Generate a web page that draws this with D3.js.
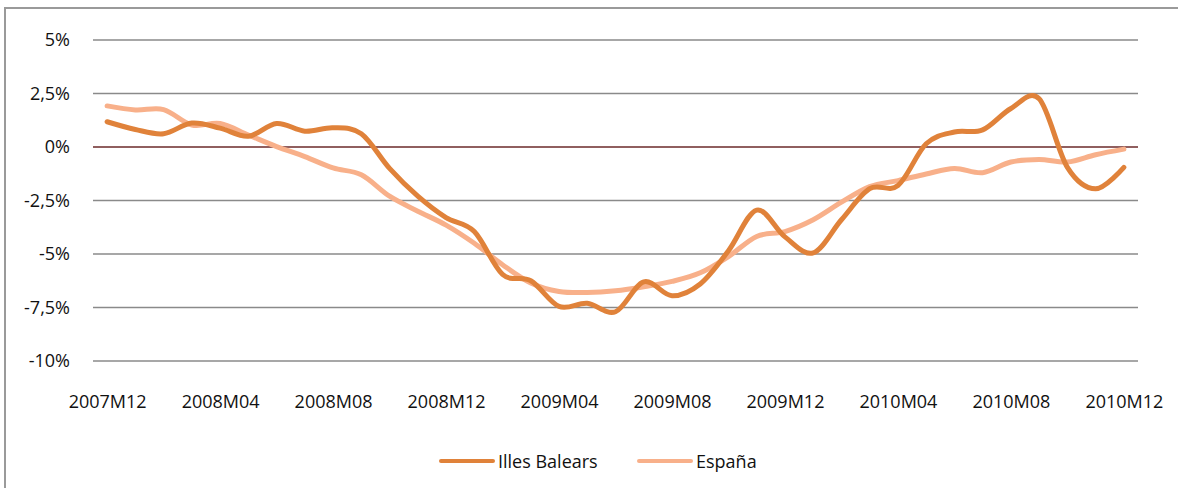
<!DOCTYPE html>
<html>
<head>
<meta charset="utf-8">
<script src="https://cdn.jsdelivr.net/npm/d3@7"></script>
<style>
  body { margin: 0; background: #fff; }
  svg text { font-family: "Open Sans", sans-serif; fill: #111; }
</style>
</head>
<body>
<div id="chart"></div>
<script>
// monthly periods 2007M12 .. 2010M12
const months = [
  '2007M12','2008M01','2008M02','2008M03','2008M04','2008M05','2008M06','2008M07','2008M08','2008M09','2008M10','2008M11',
  '2008M12','2009M01','2009M02','2009M03','2009M04','2009M05','2009M06','2009M07','2009M08','2009M09','2009M10','2009M11',
  '2009M12','2010M01','2010M02','2010M03','2010M04','2010M05','2010M06','2010M07','2010M08','2010M09','2010M10','2010M11',
  '2010M12'
];

const balears = [
  1.18, 0.82, 0.62, 1.12, 0.88, 0.50, 1.10, 0.74, 0.90, 0.62, -1.00, -2.30,
  -3.30, -3.95, -5.95, -6.25, -7.45, -7.30, -7.70, -6.30, -6.95, -6.40, -4.85, -2.95,
  -4.20, -4.95, -3.40, -1.95, -1.80, 0.15, 0.70, 0.80, 1.80, 2.25, -0.95, -1.95,
  -0.95
];

const espana = [
  1.92, 1.73, 1.75, 1.03, 1.10, 0.56, 0.02, -0.45, -0.98, -1.30, -2.30, -3.00,
  -3.65, -4.50, -5.50, -6.35, -6.75, -6.80, -6.72, -6.53, -6.28, -5.88, -5.12, -4.18,
  -3.95, -3.40, -2.58, -1.85, -1.57, -1.26, -1.00, -1.20, -0.70, -0.58, -0.70, -0.36,
  -0.10
];

const yTicks = [-10, -7.5, -5, -2.5, 0, 2.5, 5];
const xLabels = ['2007M12','2008M04','2008M08','2008M12','2009M04','2009M08','2009M12','2010M04','2010M08','2010M12'];

const series = [
  { name: 'Illes Balears', values: balears, color: '#E0823A' },
  { name: 'España', values: espana, color: '#F8B08A' }
];

const width = 1178, height = 488;
const plot = { left: 93, right: 1138, top: 40, bottom: 361 };

const svg = d3.select('#chart').append('svg')
  .attr('width', width)
  .attr('height', height);

// outer frame
svg.append('rect')
  .attr('x', 5).attr('y', 8)
  .attr('width', width + 10).attr('height', height + 10)
  .attr('fill', 'none')
  .attr('stroke', '#9a9a9a')
  .attr('stroke-width', 2);

const x = d3.scalePoint().domain(months).range([plot.left, plot.right]).padding(0.5);
const y = d3.scaleLinear().domain([-10, 5]).range([plot.bottom, plot.top]);

const fmt = (v) => String(v).replace('.', ',') + '%';

// gridlines
svg.append('g')
  .selectAll('line')
  .data(yTicks)
  .join('line')
  .attr('x1', plot.left)
  .attr('x2', plot.right)
  .attr('y1', (d) => y(d))
  .attr('y2', (d) => y(d))
  .attr('stroke', (d) => (d === 0 ? '#6B2A2A' : '#8a8a8a'))
  .attr('stroke-width', 1.6);

// y axis labels
const yAxis = svg.append('g')
  .attr('transform', `translate(${plot.left},0)`)
  .call(d3.axisLeft(y).tickValues(yTicks).tickSize(0).tickPadding(23).tickFormat(fmt));
yAxis.select('.domain').remove();
yAxis.selectAll('text').attr('font-size', 18).attr('fill', '#111');

// x axis labels
const xAxis = svg.append('g')
  .attr('transform', `translate(0,${plot.bottom})`)
  .call(d3.axisBottom(x).tickValues(xLabels).tickSize(0).tickPadding(34));
xAxis.select('.domain').remove();
xAxis.selectAll('text').attr('font-size', 18).attr('fill', '#111');

// lines
const line = d3.line()
  .x((d, i) => x(months[i]))
  .y((d) => y(d))
  .curve(d3.curveCardinal.tension(0));

svg.append('g')
  .selectAll('path')
  .data(series.slice().reverse())
  .join('path')
  .attr('d', (s) => line(s.values))
  .attr('fill', 'none')
  .attr('stroke', (s) => s.color)
  .attr('stroke-width', 5)
  .attr('stroke-linecap', 'round')
  .attr('stroke-linejoin', 'round');

// legend
const legendPos = [441, 639];
const legend = svg.append('g')
  .selectAll('g')
  .data(series)
  .join('g')
  .attr('transform', (d, i) => `translate(${legendPos[i]},461)`);

legend.append('line')
  .attr('x1', 0).attr('x2', 52)
  .attr('stroke', (d) => d.color)
  .attr('stroke-width', 4)
  .attr('stroke-linecap', 'round');

legend.append('text')
  .attr('x', 57)
  .attr('y', 7)
  .attr('font-size', 18)
  .text((d) => d.name);
</script>
</body>
</html>
